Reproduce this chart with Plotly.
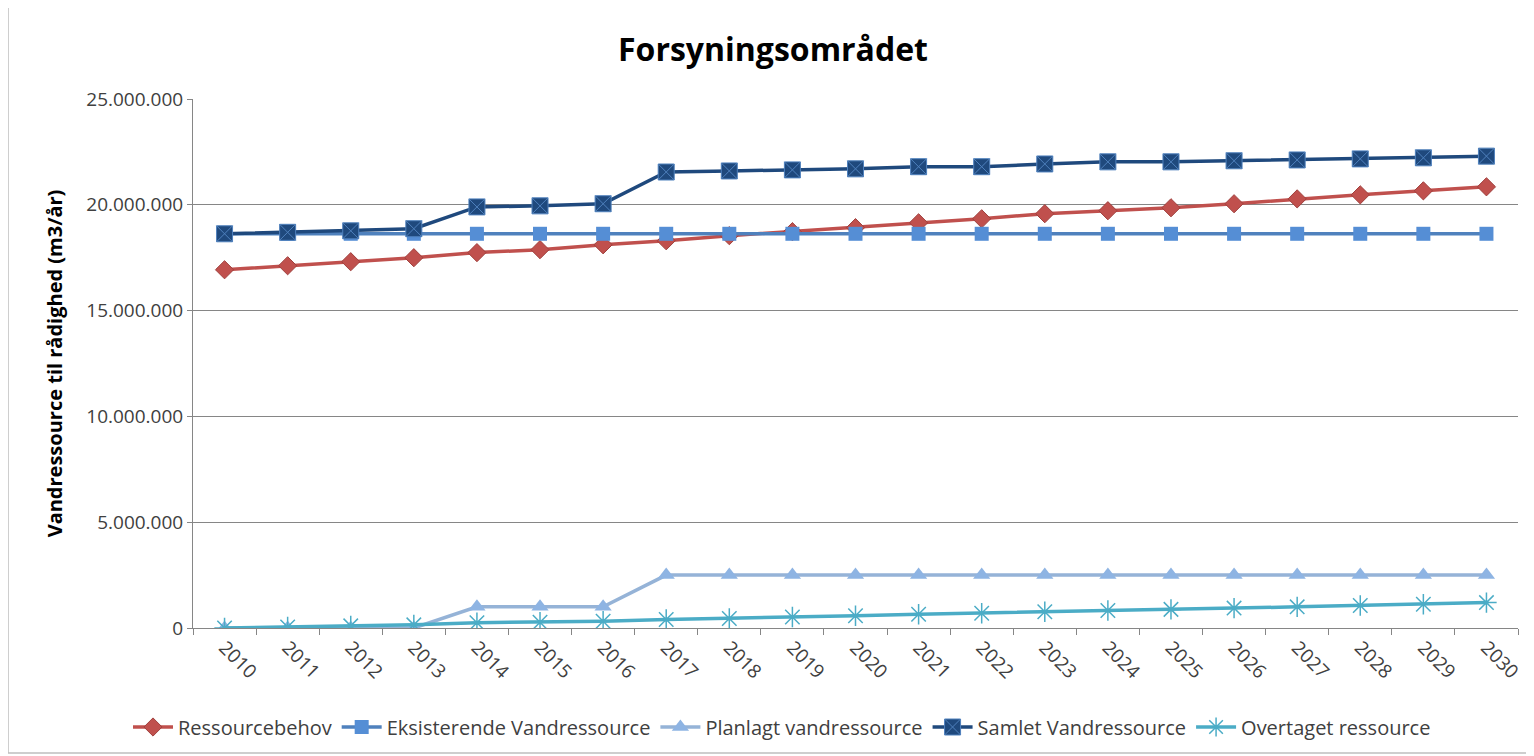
import plotly.graph_objects as go

years = [str(y) for y in range(2010, 2031)]

ressourcebehov = [16.93, 17.12, 17.31, 17.50, 17.74, 17.88, 18.11, 18.30, 18.54, 18.73, 18.92,
                  19.15, 19.34, 19.58, 19.72, 19.86, 20.05, 20.28, 20.47, 20.66, 20.85]
eksisterende = [18.63] * 21
planlagt = [0, 0, 0, 0, 1.0, 1.0, 1.0, 2.5, 2.5, 2.5, 2.5,
            2.5, 2.5, 2.5, 2.5, 2.5, 2.5, 2.5, 2.5, 2.5, 2.5]
samlet = [18.63, 18.70, 18.77, 18.87, 19.90, 19.95, 20.05, 21.55, 21.60, 21.65, 21.70,
          21.80, 21.80, 21.93, 22.03, 22.03, 22.08, 22.12, 22.17, 22.22, 22.30]
overtaget = [0, 0.05, 0.10, 0.15, 0.25, 0.27, 0.32, 0.40, 0.45, 0.52, 0.58,
             0.65, 0.70, 0.77, 0.83, 0.88, 0.94, 1.00, 1.06, 1.12, 1.20]

M = 1_000_000
def scale(v):
    return [x * M for x in v]

FONT = "Open Sans"
W, H = 1534, 756
# page is offset by 8px (body margin); layout numbers below compensate
L, R, T, B = 185, 24, 91, 136
PW, PH = W - L - R, H - T - B

fig = go.Figure()

fig.add_trace(go.Scatter(x=years, y=scale(ressourcebehov), name="Ressourcebehov", mode="lines+markers",
                         line=dict(color="#C0504D", width=3.5),
                         marker=dict(symbol="diamond", size=14, color="#C0504D",
                                     line=dict(color="#A0403D", width=1))))
fig.add_trace(go.Scatter(x=years, y=scale(eksisterende), name="Eksisterende Vandressource", mode="lines+markers",
                         line=dict(color="#4F81BD", width=3.5),
                         marker=dict(symbol="square", size=14, color="#558ED5")))
fig.add_trace(go.Scatter(x=years, y=scale(planlagt), name="Planlagt vandressource", mode="lines+markers",
                         line=dict(color="#95B3D7", width=3.5),
                         marker=dict(symbol="triangle-up", size=15, color="#8EB4E3")))
fig.add_trace(go.Scatter(x=years, y=scale(samlet), name="Samlet Vandressource", mode="lines+markers",
                         line=dict(color="#1F497D", width=3.5),
                         marker=dict(symbol="square-x", size=16, color="#1F497D",
                                     line=dict(color="#4F81BD", width=1))))
fig.add_trace(go.Scatter(x=years, y=scale(overtaget), name="Overtaget ressource", mode="lines+markers",
                         line=dict(color="#4BACC6", width=3.5),
                         marker=dict(symbol="asterisk-open", size=17, color="#4BACC6",
                                     line=dict(color="#4BACC6", width=1.5))))

fig.update_layout(
    width=W, height=H,
    paper_bgcolor="white", plot_bgcolor="white",
    margin=dict(l=L, r=R, t=T, b=B),
    separators=",.",
    font=dict(family=FONT, color="#404040", size=19),
    title=dict(text="<b>Forsyningsområdet</b>", x=(773 - 8) / W, xref="container", xanchor="center",
               y=1 - 42 / H, yref="container", yanchor="middle",
               font=dict(family=FONT, size=32, color="black")),
    xaxis=dict(type="category", tickson="boundaries", ticks="outside", ticklen=6,
               tickcolor="#868686", showline=True, linecolor="#868686", linewidth=1,
               showgrid=False, tickangle=45, tickfont=dict(size=19, color="#404040"),
               range=[-0.5, 20.5], automargin=False),
    yaxis=dict(range=[0, 25 * M], dtick=5 * M, tickformat=",.0f", showgrid=True,
               gridcolor="#868686", gridwidth=1, showline=True, linecolor="#868686",
               ticks="outside", ticklen=5, tickcolor="#868686", zeroline=False,
               tickfont=dict(size=19, color="#404040"), automargin=False,
               title=dict(text="<b>Vandressource til rådighed (m3/år)</b>",
                          font=dict(size=20, color="black"), standoff=18)),
    legend=dict(orientation="h", xref="container", yref="container", x=(782 - 8) / W, xanchor="center",
                y=1 - 719 / H, yanchor="middle", font=dict(size=20, color="#404040"),
                itemwidth=40, traceorder="normal"),
    shapes=[dict(type="rect", xref="paper", yref="paper",
                 x0=(0 - L) / PW, x1=(W + 20 - L) / PW,
                 y0=-(745 - (H - B)) / PH, y1=((H - B) + 1) / PH,
                 line=dict(color="#BFBFBF", width=1.5), layer="below")],
)

fig.write_html("out.html")
